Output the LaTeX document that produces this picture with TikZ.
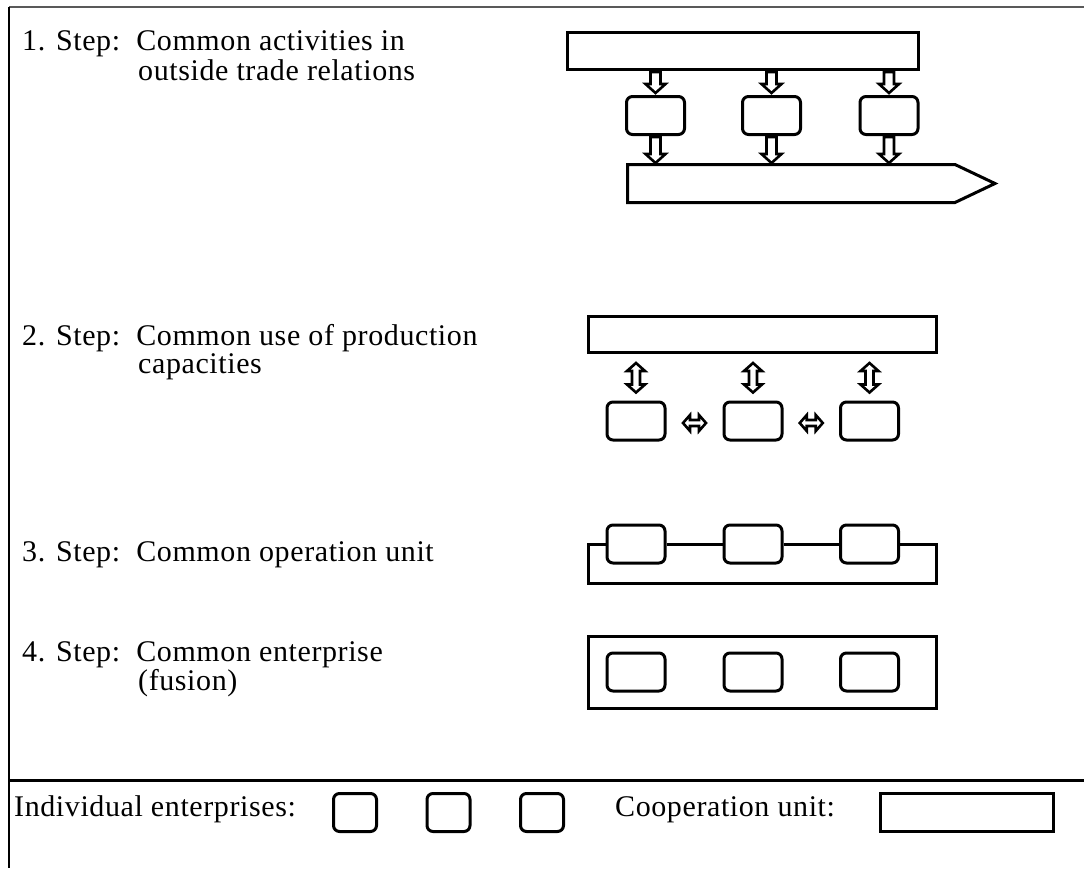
\documentclass[tikz,border=0pt]{standalone}
\usepackage{fontspec}
\setmainfont{Liberation Serif}[LetterSpace=2.0]
\usetikzlibrary{calc}
\newcommand\hollowdown[2]{%
  \draw[arr] let \p1=#1, \p2=#2 in
    (\x1-5pt,\y1) -- (\x1+5pt,\y1) -- (\x1+5pt,\y2+9pt) -- (\x1+10pt,\y2+9pt)
    -- (\x1,\y2) -- (\x1-10pt,\y2+9pt) -- (\x1-5pt,\y2+9pt) -- cycle;}
\newcommand\hollowvert[2]{%
  \draw[arr] let \p1=#1, \p2=#2 in
    (\x1,\y1) -- (\x1+9pt,\y1-8pt) -- (\x1+4pt,\y1-8pt) -- (\x1+4pt,\y2+8pt)
    -- (\x1+9pt,\y2+8pt) -- (\x1,\y2) -- (\x1-9pt,\y2+8pt) -- (\x1-4pt,\y2+8pt)
    -- (\x1-4pt,\y1-8pt) -- (\x1-9pt,\y1-8pt) -- cycle;}
\newcommand\hollowhoriz[1]{%
  \draw[arr] let \p1=#1 in
    (\x1-11.5pt,\y1) -- (\x1-4.5pt,\y1+8pt) -- (\x1-4.5pt,\y1+3pt) -- (\x1+4.5pt,\y1+3pt)
    -- (\x1+4.5pt,\y1+8pt) -- (\x1+11.5pt,\y1) -- (\x1+4.5pt,\y1-8pt) -- (\x1+4.5pt,\y1-3pt)
    -- (\x1-4.5pt,\y1-3pt) -- (\x1-4.5pt,\y1-8pt) -- cycle;}
\begin{document}
\begin{tikzpicture}[x=1pt,y=-1pt,
  ent/.style={draw, line width=3pt, rounded corners=6pt, minimum width=58pt,
              minimum height=38pt, inner sep=0pt},
  coop/.style={draw, line width=3pt, inner sep=0pt},
  arr/.style={draw, line width=2.6pt, fill=white, line join=miter},
  lbl/.style={anchor=base west, inner sep=0pt, font=\fontsize{30}{30}\selectfont},
  frame/.style={line width=2.5pt}]
\useasboundingbox (0,0) rectangle (1084,868);
\fill[white] (0,0) rectangle (1084,868);
% frame
\coordinate (ftl) at (9,7);
\coordinate (ftr) at (1084,7);
\coordinate (fbl) at (9,868);
\coordinate (fml) at (9,780);
\coordinate (fmr) at (1084,780);
\draw[frame, draw=black!65] (ftl) -- (ftr);
\draw[line width=2pt] (ftl) -- (fbl);
\draw[frame, line width=3pt] (fml) -- (fmr);

% ---------- Step 1
\node[lbl] (t1a) at (22,50) {1. Step:\ \ Common activities in};
\node[lbl] (t1b) at (138,80) {outside trade relations};
\node[coop, minimum width=351pt, minimum height=37pt] (s1bar) at (743,51) {};
\node[ent] (s1a) at (655.5,115.5) {};
\node[ent] (s1b) at (771.5,115.5) {};
\node[ent] (s1c) at (889,115.5) {};
\draw[coop] (627.5,164.5) -- (955,164.5) -- (995,183.5) coordinate (ptip)
  -- (955,202.5) -- (627.5,202.5) -- cycle;
\coordinate (pent) at (627.5,164.5);
\foreach \b in {s1a,s1b,s1c}{
  \hollowdown{($(s1bar.south -| \b.north)+(0,1)$)}{($(\b.north)+(0,-2)$)}
  \hollowdown{($(\b.south)+(0,1)$)}{($(\b.south |- pent)+(0,-1.5)$)}
}

% ---------- Step 2
\node[lbl] (t2a) at (22,345) {2. Step:\ \ Common use of production};
\node[lbl] (t2b) at (138,373) {capacities};
\node[coop, minimum width=348pt, minimum height=36pt] (s2bar) at (762.5,334.5) {};
\node[ent] (s2a) at (636,421) {};
\node[ent] (s2b) at (753,421) {};
\node[ent] (s2c) at (869.5,421) {};
\foreach \b in {s2a,s2b,s2c}{
  \hollowvert{($(s2bar.south -| \b.north)+(0,9)$)}{($(\b.north)+(0,-8)$)}
}
\hollowhoriz{($(s2a.east)!0.5!(s2b.west)+(0,2)$)}
\hollowhoriz{($(s2b.east)!0.5!(s2c.west)+(0,2)$)}

% ---------- Step 3
\node[lbl] (t3a) at (22,561) {3. Step:\ \ Common operation unit};
\node[ent] (s3a) at (636,544) {};
\node[ent] (s3b) at (753,544) {};
\node[ent] (s3c) at (869.5,544) {};
\coordinate (s3bl) at (588.5,583);
\coordinate (s3tr) at (936.5,544);
\draw[line width=3pt] (s3a.west) -| (s3bl) -| (s3tr) -- (s3c.east);
\draw[line width=3pt] (s3a.east) -- (s3b.west);
\draw[line width=3pt] (s3b.east) -- (s3c.west);

% ---------- Step 4
\node[lbl] (t4a) at (22,661) {4. Step:\ \ Common enterprise};
\node[lbl] (t4b) at (138,690) {(fusion)};
\node[coop, minimum width=348pt, minimum height=72pt] (s4bar) at (762.5,672.5) {};
\node[ent] (s4a) at (636,672) {};
\node[ent] (s4b) at (753,672) {};
\node[ent] (s4c) at (869.5,672) {};

% ---------- Legend
\node[lbl] (lg1) at (14,816) {Individual enterprises:};
\node[ent, minimum width=43pt] (lga) at (355,812.5) {};
\node[ent, minimum width=43pt] (lgb) at (448.5,812.5) {};
\node[ent, minimum width=43pt] (lgc) at (542,812.5) {};
\node[lbl] (lg2) at (615,816) {Cooperation unit:};
\node[coop, minimum width=173pt, minimum height=38pt] (lgcoop) at (967,812.5) {};
\end{tikzpicture}
\end{document}
